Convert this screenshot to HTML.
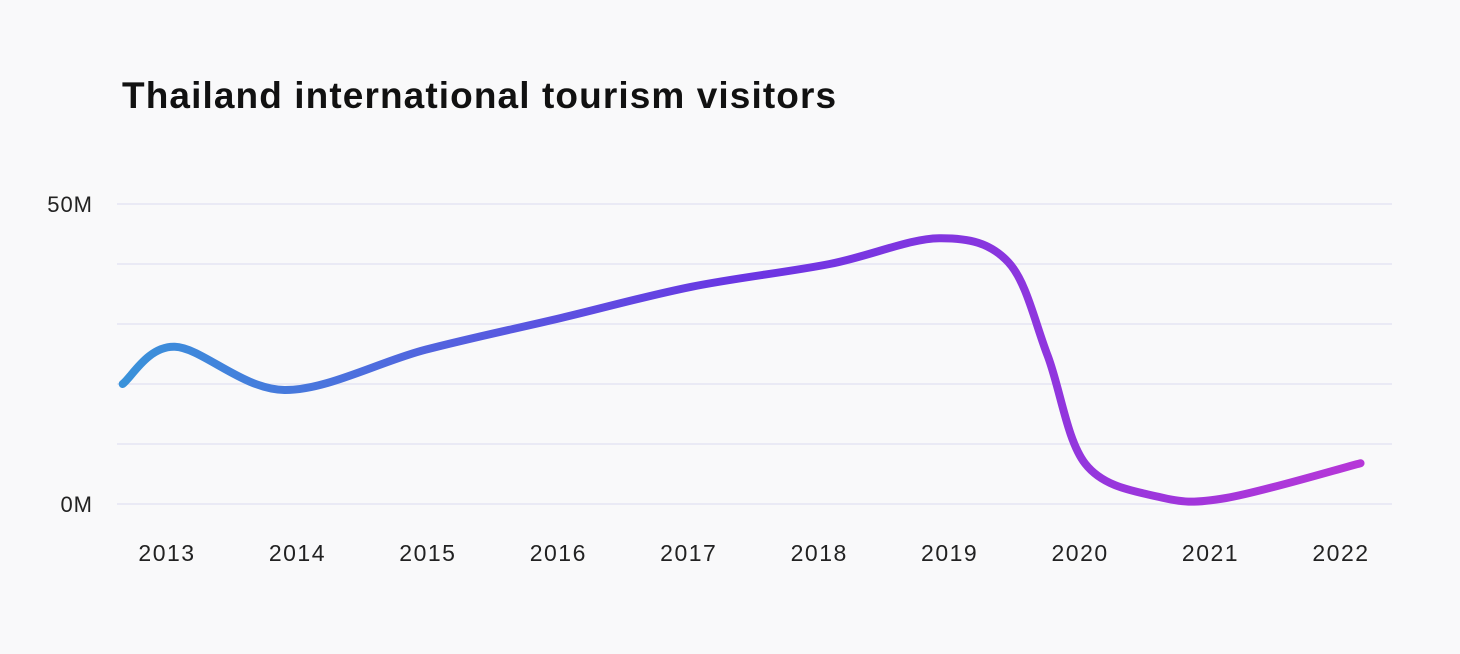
<!DOCTYPE html>
<html><head><meta charset="utf-8"><style>
body{margin:0;background:#f9f9fa;font-family:"Liberation Sans",sans-serif;}
svg{display:block}
</style></head><body>
<svg id="chart" width="1460" height="654">
<defs><linearGradient id="lg" x1="0" x2="1" y1="0" y2="0">
<stop offset="0" stop-color="#3a92da"/><stop offset="0.5" stop-color="#6a35e3"/><stop offset="1" stop-color="#b637d8"/></linearGradient></defs>
<text x="122" y="108" font-size="37" font-weight="bold" letter-spacing="1.1" fill="#111">Thailand international tourism visitors</text>
<g id="grid"></g><g id="xt"></g>
</svg>
<script>
const yTicks=[0,10,20,30,40,50];
const yTickLabels={0:"0M",50:"50M"};
const xTickYears=[2013,2014,2015,2016,2017,2018,2019,2020,2021,2022];
const pointTimes=[2012.66,2013.06,2013.9,2014.98,2016.02,2017.02,2018.08,2018.92,2019.45,2019.75,2020.04,2020.6,2021.12,2022.15];
const pointValues=[20,26.2,19,25.7,31,36.2,40,44.3,40.3,24.8,6.7,1.2,1,6.8];
const NS="http://www.w3.org/2000/svg";
const svg=document.getElementById('chart');
const x=t=>167+(t-2013)*130.44;
const y=v=>504-v*6;
const g=document.getElementById('grid');
yTicks.forEach(v=>{
 const l=document.createElementNS(NS,'line');
 l.setAttribute('x1',117);l.setAttribute('x2',1392);l.setAttribute('y1',y(v));l.setAttribute('y2',y(v));
 l.setAttribute('stroke','#e6e6f3');l.setAttribute('stroke-width','1.5');
 
 
 g.appendChild(l);
 if(yTickLabels[v]!==undefined){
  const t=document.createElementNS(NS,'text');
  t.setAttribute('x',93);t.setAttribute('y',y(v)+8);t.setAttribute('text-anchor','end');
  t.setAttribute('font-size','22');t.setAttribute('letter-spacing','1');t.setAttribute('fill','#222');t.textContent=yTickLabels[v];
  
  
  g.appendChild(t);
 }
});
const xt=document.getElementById('xt');
xTickYears.forEach(yr=>{
 const t=document.createElementNS(NS,'text');
 t.setAttribute('x',x(yr));t.setAttribute('y',561);t.setAttribute('text-anchor','middle');
 t.setAttribute('font-size','23');t.setAttribute('letter-spacing','1.5');t.setAttribute('fill','#222');t.textContent=yr;
 
 
 xt.appendChild(t);
});
const P=pointTimes.map((t,i)=>[x(t),y(pointValues[i])]);
let d=`M${P[0][0]},${P[0][1]}`;
for(let i=0;i<P.length-1;i++){
 const p0=P[Math.max(0,i-1)],p1=P[i],p2=P[i+1],p3=P[Math.min(P.length-1,i+2)];
 const k=6;
 d+=` C${p1[0]+(p2[0]-p0[0])/k},${p1[1]+(p2[1]-p0[1])/k} ${p2[0]-(p3[0]-p1[0])/k},${p2[1]-(p3[1]-p1[1])/k} ${p2[0]},${p2[1]}`;
}
const path=document.createElementNS(NS,'path');
path.setAttribute('d',d);path.setAttribute('fill','none');path.setAttribute('stroke','url(#lg)');
path.setAttribute('stroke-width','8');path.setAttribute('stroke-linecap','round');path.setAttribute('stroke-linejoin','round');


svg.appendChild(path);
</script>
</body></html>
